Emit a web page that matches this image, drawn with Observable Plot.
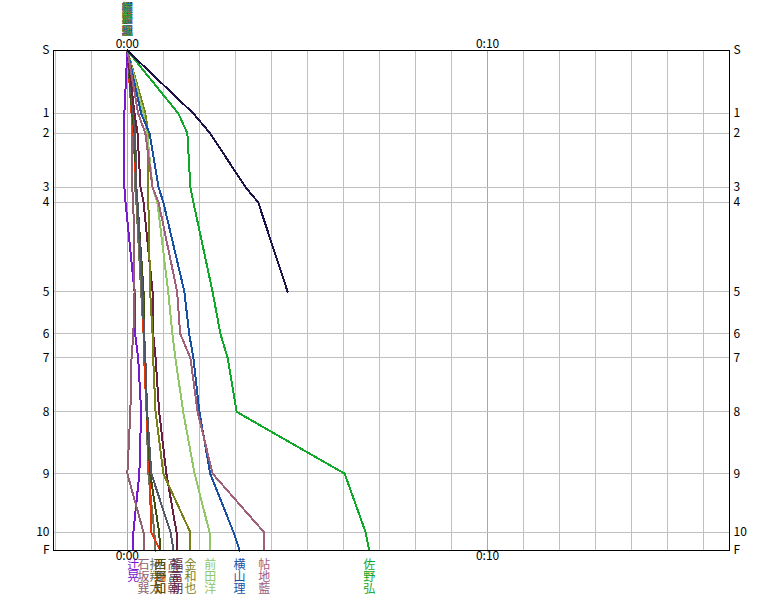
<!DOCTYPE html>
<html><head><meta charset="utf-8">
<script src="https://cdn.jsdelivr.net/npm/d3@7"></script>
<script src="https://cdn.jsdelivr.net/npm/@observablehq/plot@0.6"></script>
<style>body{margin:0;background:#fff}</style>
</head><body><div id="chart"></div>
<script>
// Controls and reference cumulative times (seconds)
const controls = ["S","1","2","3","4","5","6","7","8","9","10","F"];
const refCum = [0,105,138,228,253,402,472,512,602,705,803,833];
// Time-axis ticks (seconds behind) and labels
const gridX = [-120,-60,0,60,120,180,240,300,360,420,480,540,600,660,720,780,840,900,960];
const labelTicksX = [0,600];
const labelTextX = ["0:00","0:10"];

// Runners
const names = ["辻晃","石坂巽","拓翔太","西翔知","西野知","高富朝","福富朝","金和也","前田洋","横山理","帖地藍","佐野弘","DNF"];
const colors = ["#7818d0","#906070","#707058","#e03808","#405010","#505868","#682040","#788018","#90c868","#1850a8","#a0607c","#10a828","#1c1448"];
// Seconds behind reference at each control (S..F)
const behindTsuji   = [0,-5,-5,-5,-3,12,13,18,23,20,10,10];
const behindIshi    = [0,7,7,8,10,12,10,7,5,0,27,27];
const behindTaku    = [0,10,12,13,15,23,27,28,32,35,45,47];
const behindNishi   = [0,7,10,15,17,25,27,28,32,37,40,55];
const behindNishino = [0,8,12,15,17,27,28,30,33,38,53,55];
const behindTaka    = [0,10,13,15,17,25,28,30,33,40,72,77];
const behindFuku    = [0,12,17,22,27,42,43,47,53,65,82,83];
const behindKane    = [0,30,35,35,35,38,42,43,47,60,105,105];
const behindMaeda   = [0,27,33,42,50,68,75,80,93,112,137,138];
const behindYoko    = [0,23,37,52,60,95,103,110,120,138,177,187];
const behindChou    = [0,18,30,42,52,83,88,105,117,142,228,228];
const behindSano    = [0,85,100,105,110,142,155,167,182,362,397,403];
const behindDnf     = [0,110,138,197,218,267];
const behind = [behindTsuji,behindIshi,behindTaku,behindNishi,behindNishino,behindTaka,behindFuku,behindKane,behindMaeda,behindYoko,behindChou,behindSano,behindDnf];

const rows = [];
behind.forEach((arr,i)=>arr.forEach((v,j)=>rows.push({name:names[i],color:colors[i],x:v,y:refCum[j]})));
const finishers = names.map((n,i)=>({name:n,color:colors[i],chars:n.split("").join("\n"),x:behind[i][behind[i].length-1],fin:behind[i].length===refCum.length})).filter(d=>d.fin);
const starters = names.slice(0,12).map((n,i)=>({name:n,color:colors[i],chars:n.split("").join("\n"),x:0}));

const font = "'Noto Sans CJK JP', sans-serif";
const fmtY = d=>controls[refCum.indexOf(d)];
const fmtX = d=>labelTextX[labelTicksX.indexOf(d)];
const chart = Plot.plot({
  width:780, height:600,
  marginLeft:53, marginRight:51, marginTop:50, marginBottom:50,
  x:{domain:[-123,1003], axis:null},
  y:{domain:[0,833], reverse:true, axis:null},
  color:{type:"identity"},
  style:{fontFamily:font, fontSize:"12px", background:"#fff", color:"#000"},
  marks:[
    Plot.ruleX(gridX,{stroke:"#c0c0c0", strokeOpacity:1, shapeRendering:"crispEdges"}),
    Plot.ruleX(labelTicksX,{stroke:"#a8a8a8", strokeOpacity:1, shapeRendering:"crispEdges"}),
    Plot.ruleY(refCum.slice(1,-1),{stroke:"#c0c0c0", strokeOpacity:1, shapeRendering:"crispEdges"}),
    Plot.line(rows,{x:"x", y:"y", z:"name", stroke:"color", strokeWidth:2, strokeLinejoin:"miter", shapeRendering:"crispEdges"}),
    Plot.frame({stroke:"#000", shapeRendering:"crispEdges"}),
    Plot.axisY(refCum,{anchor:"left", label:null, tickSize:0, tickPadding:4, tickFormat:fmtY, fontSize:12}),
    Plot.axisY(refCum,{anchor:"right", label:null, tickSize:0, tickPadding:4, tickFormat:fmtY, fontSize:12}),
    Plot.axisX(labelTicksX,{anchor:"top", label:null, tickSize:0, tickPadding:3, tickFormat:fmtX, fontSize:12}),
    Plot.axisX(labelTicksX,{anchor:"bottom", label:null, tickSize:0, tickPadding:1, tickFormat:fmtX, fontSize:12}),
    Plot.text(finishers,{x:"x", y:()=>833, text:"chars", fill:"color", lineAnchor:"top", lineHeight:1, dy:10, fontSize:12}),
    Plot.text(starters,{x:"x", y:()=>0, text:"chars", fill:"color", lineAnchor:"top", lineHeight:1.05, dy:-47, fontSize:11})
  ]
});
document.getElementById("chart").appendChild(chart);
</script>
</body></html>
